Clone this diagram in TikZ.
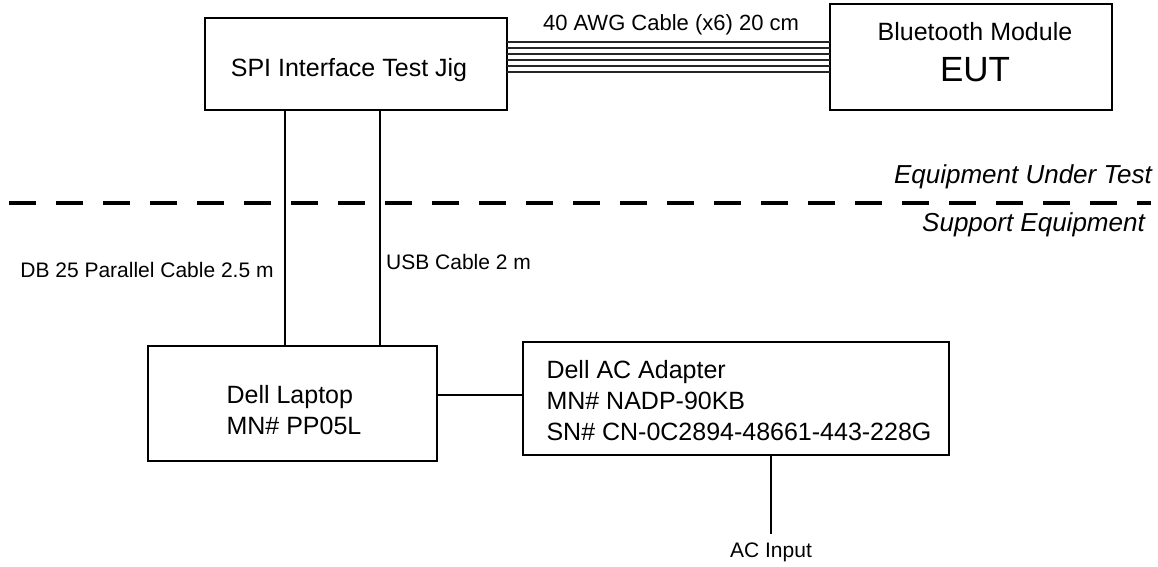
\documentclass[tikz,border=0pt]{standalone}
\usepackage{fontspec}
\setmainfont{Liberation Sans}
\usetikzlibrary{positioning}

\begin{document}
\begin{tikzpicture}[x=1pt, y=-1pt,
    unit/.style={draw, line width=1.5pt, outer sep=0pt, inner sep=0pt},
    caption/.style={inner sep=0pt, font=\fontsize{25}{31}\selectfont},
    wire/.style={line width=1.5pt},
    strand/.style={line width=1.3pt, black!85},
    note/.style={inner sep=0pt, font=\fontsize{21}{25}\selectfont},
    zone/.style={inner sep=0pt, font=\fontsize{26}{30}\selectfont\itshape}]
  \useasboundingbox (0,0) rectangle (1158,566);

  % equipment boxes, text set a little off centre
  \node[unit, minimum width=302, minimum height=92] (jig) at (356,64) {};
  \node[caption] (jigname) at (349,70) {SPI Interface Test Jig};
  \node[unit, minimum width=282, minimum height=106] (eut) at (971,57) {};
  \node[caption, align=center] (eutname) at (975,52)
    {Bluetooth Module\\[10pt]{\fontsize{35}{35}\selectfont EUT}};
  \node[unit, minimum width=289, minimum height=115] (laptop) at (292.5,403.5) {};
  \node[caption, align=left] (laptopname) at (294,410.5) {Dell Laptop\\MN\# PP05L};
  \node[unit, minimum width=426, minimum height=113] (adapter) at (736,398.5) {};
  \node[caption, align=left] (adaptername) at (739,400.5)
    {Dell AC Adapter\\MN\# NADP-90KB\\SN\# CN-0C2894-48661-443-228G};

  % six wire ribbon
  \foreach \k [evaluate=\k as \wy using 42+6*\k] in {0,...,5} {
    \draw[strand] (jig.east |- 0,\wy) -- (eut.west |- 0,\wy);
  }
  \node[note, font=\fontsize{22}{26}\selectfont] (ribbon) at (671,25) {40 AWG Cable (x6) 20 cm};

  % boundary between EUT and support side
  \draw[line width=3.5pt, dash pattern=on 27pt off 20pt] (9,203) -- (1151,203);
  \node[zone, anchor=east] (eutside) at (1152,177) {Equipment Under Test};
  \node[zone, anchor=east] (supside) at (1145,225) {Support Equipment};

  % cables to the laptop
  \draw[wire] (jig.south -| 285,0) -- (laptop.north -| 285,0);
  \draw[wire] (jig.south -| 380,0) -- (laptop.north -| 380,0);
  \node[note] (db25) at (147,270) {DB 25 Parallel Cable 2.5 m};
  \node[note, anchor=west] (usb) at (386,262) {USB Cable 2 m};

  % power
  \draw[wire] (laptop.east |- 0,395) -- (adapter.west |- 0,395);
  \node[note, inner sep=8pt] (acin) at (771,552) {AC Input};
  \draw[wire] (adapter.south -| acin.north) -- (acin.north);
\end{tikzpicture}
\end{document}
